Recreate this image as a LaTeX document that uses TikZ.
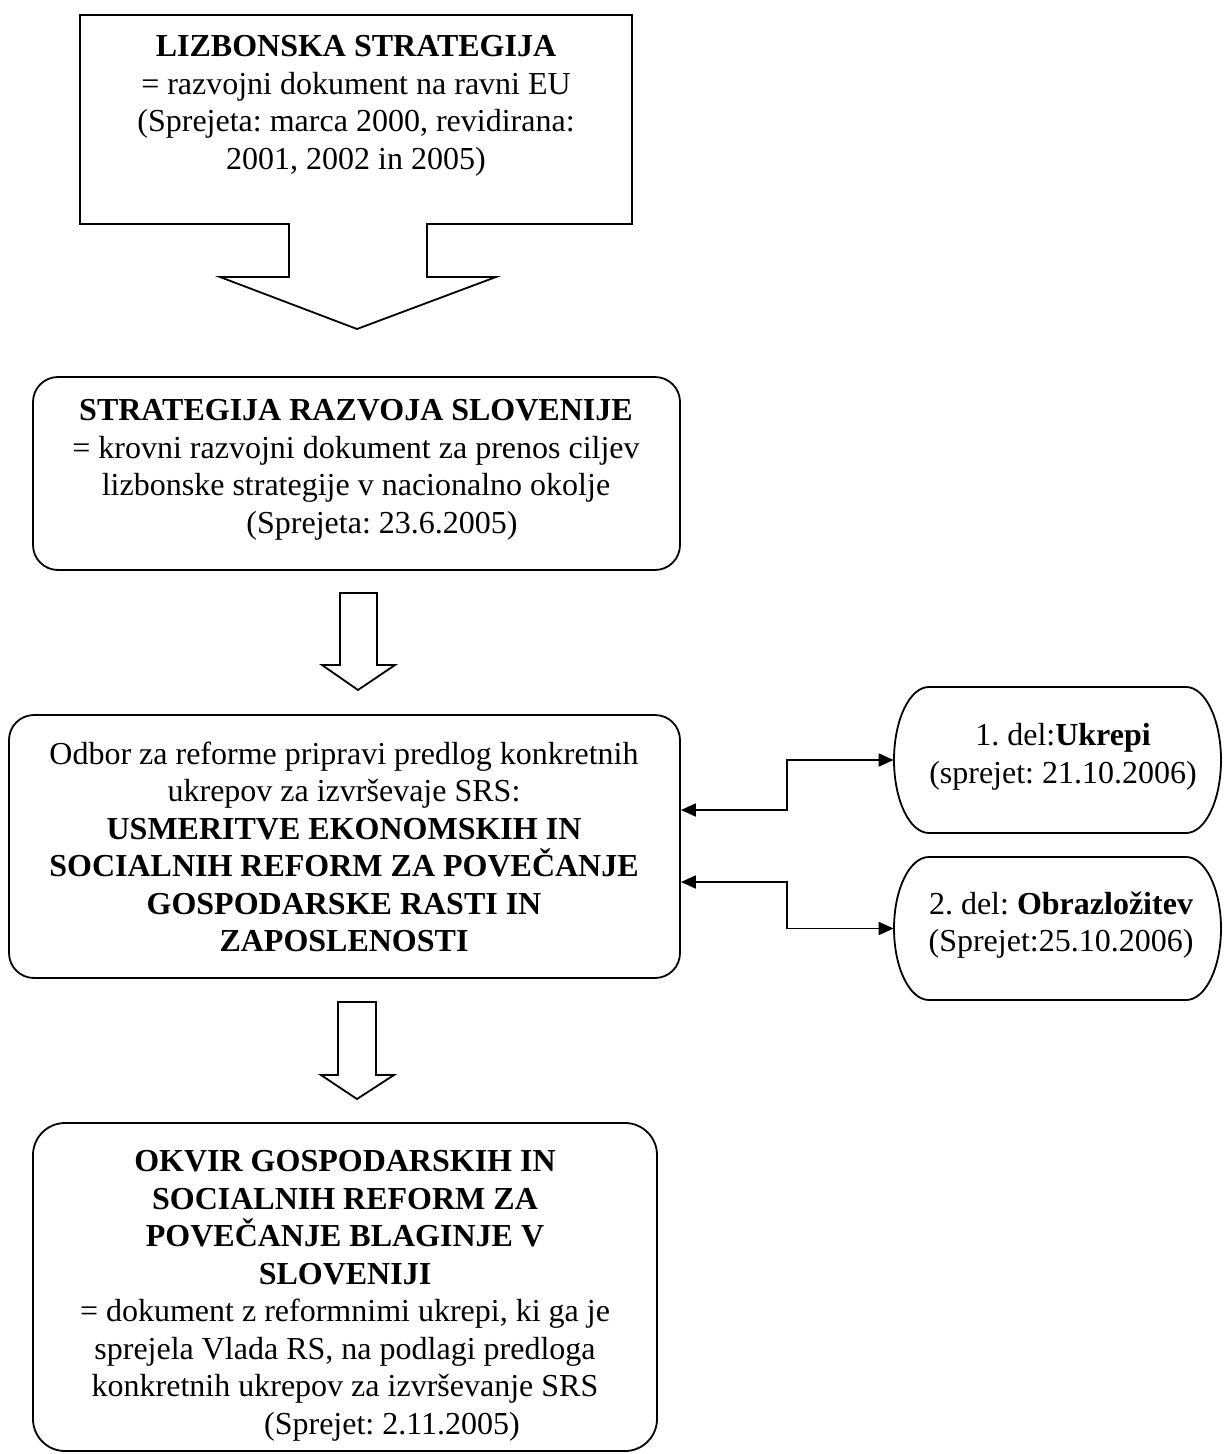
\documentclass[tikz,border=0pt]{standalone}
\usepackage{fontspec}
\setmainfont{Liberation Serif}
\usetikzlibrary{arrows.meta}
\begin{document}
\frenchspacing
\begin{tikzpicture}[x=0.5pt,y=-0.5pt,
  lbl/.style={font=\fontsize{16}{18.75}\selectfont, align=center, inner sep=0pt},
  rbox/.style={draw, line width=0.9pt, rounded corners=12.5pt, inner sep=0pt},
  anchorbox/.style={inner sep=0pt},
  outline/.style={draw, line width=0.9pt, line join=miter},
  conn/.style={line width=0.9pt, {Triangle[length=7.5pt,width=6.5pt]}-{Triangle[length=7.5pt,width=6.5pt]}}]
\useasboundingbox (0,0) rectangle (1223,1454);

% top callout box with arrow
\draw[outline] (80,15) -- (632,15) -- (632,224) -- (427,224) -- (427,277) -- (496,277)
  -- (357,329) -- (220,277) -- (289,277) -- (289,224) -- (80,224) -- cycle;
\node[lbl] (t1) at (356,106) {\textbf{LIZBONSKA STRATEGIJA}\\= razvojni dokument na ravni EU\\(Sprejeta: marca 2000, revidirana:\\2001, 2002 in 2005)};

% box 2
\node[rbox, minimum width=323.5pt, minimum height=96.5pt] (b2) at (356.5,473.5) {};
\node[lbl] (t2) at (356,470) {\textbf{STRATEGIJA RAZVOJA SLOVENIJE}\\= krovni razvojni dokument za prenos ciljev\\lizbonske strategije v nacionalno okolje\\\hspace*{26pt}(Sprejeta: 23.6.2005)};

% hollow arrow 2
\draw[outline] (340,593) -- (377,593) -- (377,665) -- (395,665) -- (358,690) -- (322,665) -- (340,665) -- cycle;

% box 3
\node[rbox, minimum width=335.5pt, minimum height=131.5pt] (b3) at (344.5,846.5) {};
\node[lbl] (t3) at (344,847) {Odbor za reforme pripravi predlog konkretnih\\ukrepov za izvrševaje SRS:\\\textbf{USMERITVE EKONOMSKIH IN}\\\textbf{SOCIALNIH REFORM ZA POVEČANJE}\\\textbf{GOSPODARSKE RASTI IN}\\\textbf{ZAPOSLENOSTI}};

% hollow arrow 3
\draw[outline] (338,1002) -- (376,1002) -- (376,1075) -- (394,1075) -- (357,1099) -- (321,1075) -- (338,1075) -- cycle;

% box 4
\node[rbox, rounded corners=16pt, minimum width=312pt, minimum height=164pt] (b4) at (345,1287) {};
\node[lbl] (t4) at (345,1296) {\textbf{OKVIR GOSPODARSKIH IN}\\\textbf{SOCIALNIH REFORM ZA}\\\textbf{POVEČANJE BLAGINJE V}\\\textbf{SLOVENIJI}\\= dokument z reformnimi ukrepi, ki ga je\\sprejela Vlada RS, na podlagi predloga\\konkretnih ukrepov za izvrševanje SRS\\\hspace*{47pt}(Sprejet: 2.11.2005)};

% right boxes
\node[anchorbox, minimum width=163.5pt, minimum height=73pt] (bA) at (1057.5,760) {};
\draw[outline] (929,687) -- (1186,687) .. controls (1205.3,687) and (1221,719.7) .. (1221,760)
  .. controls (1221,800.3) and (1205.3,833) .. (1186,833) -- (929,833)
  .. controls (909.7,833) and (894,800.3) .. (894,760)
  .. controls (894,719.7) and (909.7,687) .. cycle;
\node[lbl] (tA) at (1063,757) {1. del:\textbf{Ukrepi}\\(sprejet: 21.10.2006)};

\node[anchorbox, minimum width=163.5pt, minimum height=71.5pt] (bB) at (1057.5,928.5) {};
\draw[outline] (929,857) -- (1186,857) .. controls (1205.3,857) and (1221,889) .. (1221,928.5)
  .. controls (1221,968) and (1205.3,1000) .. (1186,1000) -- (929,1000)
  .. controls (909.7,1000) and (894,968) .. (894,928.5)
  .. controls (894,889) and (909.7,857) .. cycle;
\node[lbl] (tB) at (1061,925) {2. del: \textbf{Obrazložitev}\\(Sprejet:25.10.2006)};

% connectors
\draw[conn] ([yshift=18.25pt]b3.east) -- ++(53pt,0) |- (bA.west);
\draw[conn] ([yshift=-17.75pt]b3.east) -- ++(53pt,0) |- (bB.west);
\end{tikzpicture}
\end{document}
